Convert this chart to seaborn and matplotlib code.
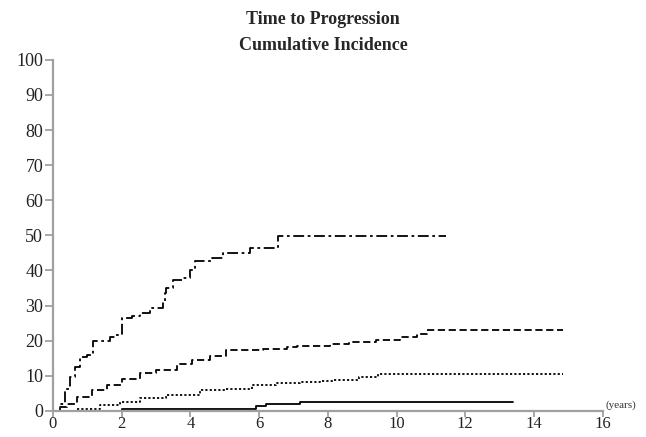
import pandas as pd
import seaborn as sns
import matplotlib.pyplot as plt

# Kaplan-Meier style cumulative incidence
t_a = [0, 0.2, 0.35, 0.5, 0.64, 0.78, 0.99, 1.16, 1.66, 1.8, 2.0, 2.3, 2.53, 2.82, 3.2,
       3.26, 3.3, 3.5, 3.78, 3.98, 4.13, 4.62, 4.95, 5.73, 6.55, 11.45]
y_a = [0, 2, 6.2, 9.6, 12.4, 15.3, 16, 20, 21, 21.5, 26.5, 27, 28, 29.4, 30.8,
       33.5, 35, 37.3, 37.8, 40, 42.6, 43.5, 45, 46.3, 49.7, 49.7]

t_b = [0, 0.2, 0.4, 0.69, 1.13, 1.56, 2.0, 2.53, 3.0, 3.6, 4.04, 4.56, 5.05, 6.1, 6.8,
       7.1, 8.05, 8.63, 9.4, 10.1, 10.6, 10.9, 14.85]
y_b = [0, 1, 2, 4, 6, 7.3, 9, 10.7, 11.5, 13.3, 14.5, 15.5, 17.2, 17.5, 18.1,
       18.6, 19, 19.7, 20.3, 21.1, 21.8, 22.9, 22.9]

t_c = [0, 0.7, 1.37, 1.95, 2.53, 3.3, 4.27, 5.05, 5.8, 6.5, 7.2, 7.76, 8.15, 8.9, 9.45, 14.85]
y_c = [0, 0.6, 1.6, 2.5, 3.5, 4.5, 5.8, 6.3, 7.3, 7.8, 8.2, 8.4, 8.9, 9.6, 10.5, 10.5]

t_d = [0, 2.0, 5.9, 6.2, 7.2, 13.4]
y_d = [0, 0.6, 1.3, 1.8, 2.5, 2.5]

curves = [
    (t_a, y_a, (0, (6, 2, 1.5, 2))),
    (t_b, y_b, (0, (4, 2))),
    (t_c, y_c, (0, (1.2, 1.2))),
    (t_d, y_d, '-'),
]

sns.set_style('ticks')
plt.rcParams['font.family'] = ['Liberation Serif', 'DejaVu Serif']

fig = plt.figure(figsize=(6.46, 4.37), dpi=100)
ax = fig.add_axes([0.082, 0.060, 0.851, 0.803])

for t, y, ls in curves:
    df = pd.DataFrame({'t': t, 'y': y})
    sns.lineplot(data=df, x='t', y='y', ax=ax, color='black', linewidth=1.3,
                 linestyle=ls, drawstyle='steps-post', estimator=None)

ax.set_xlim(0, 16)
ax.set_ylim(0, 100)
ax.set_xticks(range(0, 17, 2))
ax.set_yticks(range(0, 101, 10))
ax.set_xlabel('')
ax.set_ylabel('')
for s in ['top', 'right']:
    ax.spines[s].set_visible(False)
for s in ['left', 'bottom']:
    ax.spines[s].set_color('#a0a0a0')
    ax.spines[s].set_linewidth(1.6)
ax.tick_params(axis='y', colors='#a0a0a0', length=6, width=1.3,
               labelsize=13, labelcolor='#222222', pad=1)
ax.tick_params(axis='x', colors='#a0a0a0', length=4, width=1.3,
               labelsize=12, labelcolor='#222222', pad=0)

fig.text(0.5, 0.975, 'Time to Progression', ha='center', va='top',
         fontsize=13, fontweight='bold')
fig.text(0.5, 0.916, 'Cumulative Incidence', ha='center', va='top',
         fontsize=13, fontweight='bold')
fig.text(0.938, 0.062, '(years)', ha='left', va='bottom', fontsize=8, color='#333333')

fig.savefig('out.png', dpi=100)
